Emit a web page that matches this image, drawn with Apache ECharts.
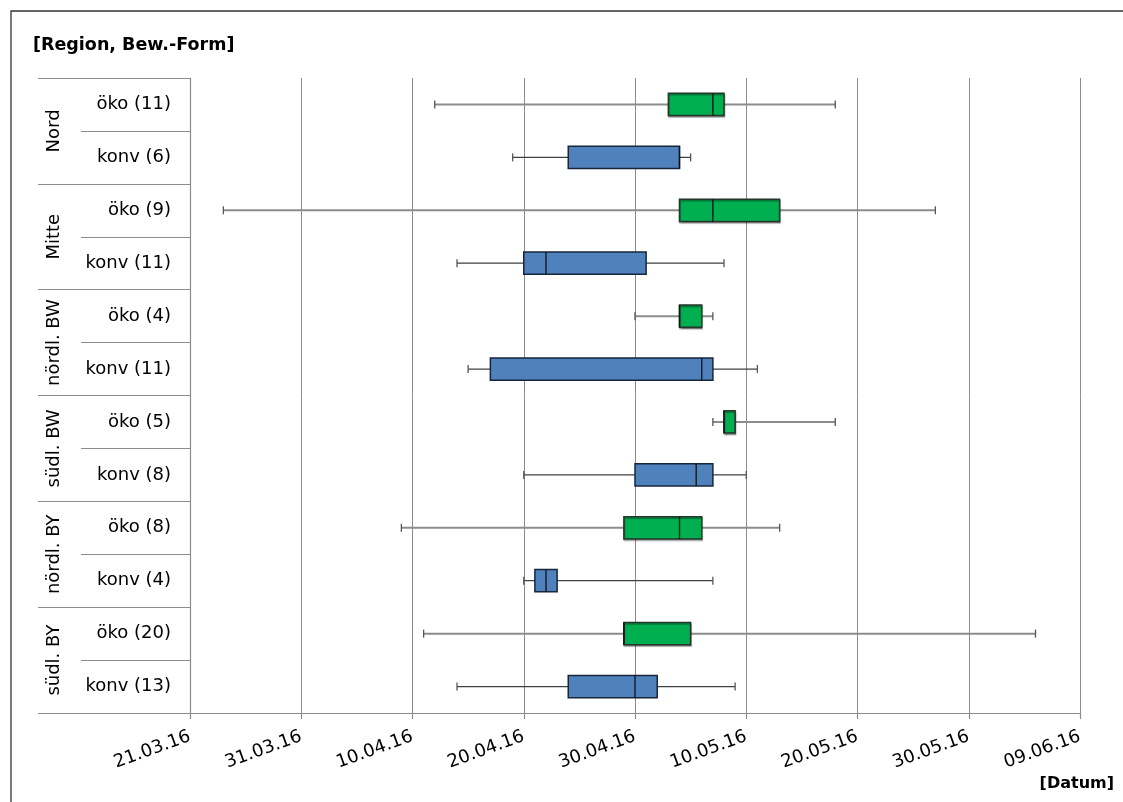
<!DOCTYPE html>
<html><head><meta charset="utf-8">
<script src="https://cdn.jsdelivr.net/npm/echarts@6/dist/echarts.min.js"></script>
<style>html,body{margin:0;padding:0;background:#fff}#c{width:1123px;height:802px}</style>
</head><body><div id="c"></div>
<script>
// ---- data ----
const baseDate = '2016-03-21';          // axis start (21.03.16)
const axisDays = 80;                     // axis end 09.06.16
const tickDays = 10;
const regions = ['Nord', 'Mitte', 'nördl. BW', 'südl. BW', 'nördl. BY', 'südl. BY'];
const rowLabels = ['öko (11)', 'konv (6)', 'öko (9)', 'konv (11)', 'öko (4)', 'konv (11)',
                   'öko (5)', 'konv (8)', 'öko (8)', 'konv (4)', 'öko (20)', 'konv (13)'];
const rowForms = ['öko', 'konv', 'öko', 'konv', 'öko', 'konv', 'öko', 'konv', 'öko', 'konv', 'öko', 'konv'];
const whiskerLow  = ['2016-04-12', '2016-04-19', '2016-03-24', '2016-04-14', '2016-04-30', '2016-04-15',
                     '2016-05-07', '2016-04-20', '2016-04-09', '2016-04-20', '2016-04-11', '2016-04-14'];
const quart1      = ['2016-05-03', '2016-04-24', '2016-05-04', '2016-04-20', '2016-05-04', '2016-04-17',
                     '2016-05-08', '2016-04-30', '2016-04-29', '2016-04-21', '2016-04-29', '2016-04-24'];
const medians     = ['2016-05-07', '2016-05-04', '2016-05-07', '2016-04-22', '2016-05-04', '2016-05-06',
                     '2016-05-08', '2016-05-05T12:00', '2016-05-04', '2016-04-22', '2016-04-29', '2016-04-30'];
const quart3      = ['2016-05-08', '2016-05-04', '2016-05-13', '2016-05-01', '2016-05-06', '2016-05-07',
                     '2016-05-09', '2016-05-07', '2016-05-06', '2016-04-23', '2016-05-05', '2016-05-02'];
const whiskerHigh = ['2016-05-18', '2016-05-05', '2016-05-27', '2016-05-08', '2016-05-07', '2016-05-11',
                     '2016-05-18', '2016-05-10', '2016-05-13', '2016-05-07', '2016-06-05', '2016-05-09'];

// ---- helpers ----
const FONT = 'DejaVu Sans';
const baseMs = Date.parse(baseDate + 'T00:00:00Z');
function dayOf(d) {
  const iso = d.length === 10 ? d + 'T00:00:00Z' : d + ':00Z';
  return (Date.parse(iso) - baseMs) / 864e5;
}
function fmt(v) {
  const dt = new Date(baseMs + v * 864e5);
  const p = n => String(n).padStart(2, '0');
  return p(dt.getUTCDate()) + '.' + p(dt.getUTCMonth() + 1) + '.' + String(dt.getUTCFullYear()).slice(2);
}
const seriesData = rowLabels.map((_, i) => [i, dayOf(whiskerLow[i]), dayOf(quart1[i]), dayOf(medians[i]),
                                              dayOf(quart3[i]), dayOf(whiskerHigh[i])]);

function renderItem(params, api) {
  const row = api.value(0);
  const pts = [1, 2, 3, 4, 5].map(k => api.coord([api.value(k), row]));
  const cy = pts[0][1];
  const band = api.size([0, 1])[1] || 53;
  const bh = band * 0.42;
  const cap = 8;
  const eco = rowForms[params.dataIndex] === 'öko';
  const wColor = eco ? '#8c8c8c' : '#404040';
  const wWidth = eco ? 2 : 1.3;
  const fill = eco ? '#00B050' : '#4F81BD';
  const stroke = eco ? '#24352a' : '#17263d';
  return {
    type: 'group',
    children: [
      { type: 'line', shape: { x1: pts[0][0], y1: cy, x2: pts[4][0], y2: cy }, style: { stroke: wColor, lineWidth: wWidth } },
      { type: 'line', shape: { x1: pts[0][0], y1: cy - cap / 2, x2: pts[0][0], y2: cy + cap / 2 }, style: { stroke: '#555', lineWidth: 1.3 } },
      { type: 'line', shape: { x1: pts[4][0], y1: cy - cap / 2, x2: pts[4][0], y2: cy + cap / 2 }, style: { stroke: '#555', lineWidth: 1.3 } },
      { type: 'rect', shape: { x: pts[1][0], y: cy - bh / 2, width: pts[3][0] - pts[1][0], height: bh },
        style: { fill: fill, stroke: stroke, lineWidth: 1.5, shadowColor: eco ? 'rgba(0,0,0,0.35)' : 'rgba(0,0,0,0)', shadowOffsetY: 1.5, shadowOffsetX: 0.5, shadowBlur: 1 } },
      { type: 'line', shape: { x1: pts[2][0], y1: cy - bh / 2, x2: pts[2][0], y2: cy + bh / 2 }, style: { stroke: '#111', lineWidth: 1.3 } }
    ]
  };
}

const chart = echarts.init(document.getElementById('c'), null, { renderer: 'canvas' });
chart.setOption({
  animation: false,
  backgroundColor: '#fff',
  title: [
    { text: '[Region, Bew.-Form]', left: 28, top: 31, textStyle: { fontFamily: FONT, fontSize: 17.5, fontWeight: 'bold', color: '#000' } },
    { text: '[Datum]', right: 4, top: 771, textStyle: { fontFamily: FONT, fontSize: 16, fontWeight: 'bold', color: '#000' } }
  ],
  graphic: [
    { type: 'rect', shape: { x: 11, y: 11, width: 1130, height: 820 }, style: { fill: 'none', stroke: '#333', lineWidth: 1.3 }, silent: true }
  ],
  grid: { left: 190, right: 43, top: 78, bottom: 89, containLabel: false },
  xAxis: {
    type: 'value', min: 0, max: axisDays, interval: tickDays,
    axisLine: { show: true, lineStyle: { color: '#8c8c8c', width: 1.2 } },
    axisTick: { show: true, length: 6, lineStyle: { color: '#8c8c8c', width: 1.2 } },
    axisLabel: { rotate: 20, margin: 23, formatter: fmt, fontFamily: FONT, fontSize: 18, color: '#000' },
    splitLine: { show: true, lineStyle: { color: '#8c8c8c', width: 1 } }
  },
  yAxis: [
    {
      type: 'category', data: rowLabels, inverse: true, position: 'left',
      axisLine: { show: true, lineStyle: { color: '#8c8c8c', width: 1.2 } },
      axisTick: { show: true, interval: 0, length: 109, lineStyle: { color: '#8c8c8c', width: 1.2 } },
      axisLabel: { interval: 0, margin: 19, fontFamily: FONT, fontSize: 18, color: '#000' },
      splitLine: { show: false }
    },
    {
      type: 'category', data: regions, inverse: true, position: 'left', offset: 0,
      axisLine: { show: false },
      axisTick: { show: true, interval: 0, length: 152, lineStyle: { color: '#8c8c8c', width: 1.2 } },
      axisLabel: { interval: 0, rotate: 90, margin: 127, fontFamily: FONT, fontSize: 18, color: '#000' },
      splitLine: { show: false }
    }
  ],
  series: [{
    type: 'custom', xAxisIndex: 0, yAxisIndex: 0,
    renderItem: renderItem,
    encode: { x: [1, 2, 3, 4, 5], y: 0 },
    data: seriesData
  }]
});
</script>
</body></html>
